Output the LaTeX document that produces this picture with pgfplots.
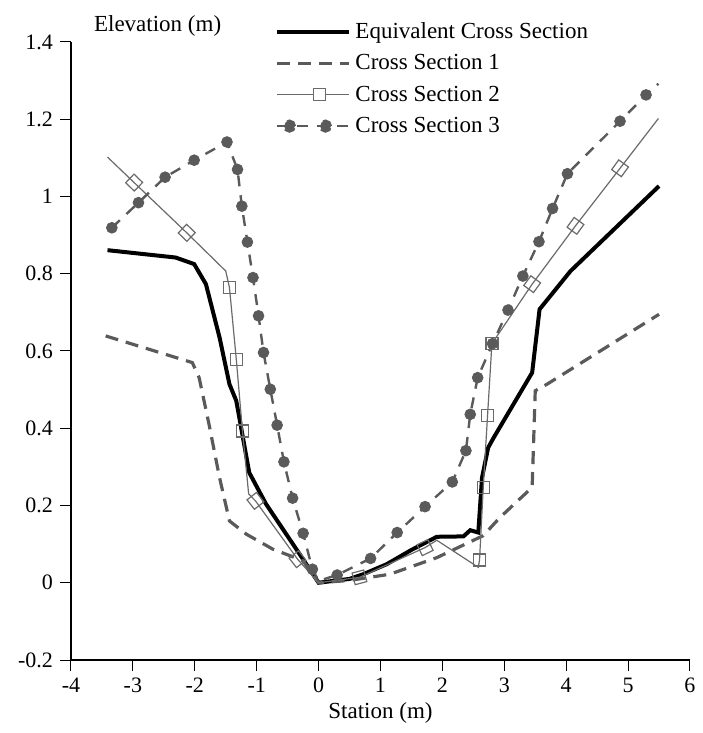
\documentclass[border=0pt]{standalone}
\usepackage{fontspec}
\setmainfont{Liberation Serif}
\usepackage{pgfplots}
\pgfplotsset{compat=1.18}
\definecolor{dg}{HTML}{5A5A5A}
\definecolor{mg}{HTML}{6A6A6A}
\begin{document}
\begin{tikzpicture}
\begin{axis}[
  scale only axis, width=309.5pt, height=309pt,
  xmin=-4, xmax=6, ymin=-0.2, ymax=1.4,
  axis x line*=bottom, axis y line*=left,
  xtick={-4,-3,-2,-1,0,1,2,3,4,5,6},
  ytick={-0.2,0,0.2,0.4,0.6,0.8,1,1.2,1.4},
  tick align=outside, major tick length=5.5pt,
  tick style={black, line width=0.5pt},
  axis line style={black, line width=0.6pt},
  /pgf/number format/assume math mode=true,
  yticklabel style={/pgf/number format/fixed},
  ticklabel style={font=\fontsize{11}{13}\selectfont},
  xlabel={Station (m)}, ylabel={Elevation (m)},
  label style={font=\fontsize{11.5}{13}\selectfont},
  ylabel style={rotate=-90, at={(axis description cs:0,1)}, anchor=base west, xshift=8pt, yshift=5pt},
  xlabel style={yshift=2pt},
  legend style={at={(axis description cs:0.32,1.045)}, anchor=north west, draw=none, fill=none,
    font=\fontsize{11.5}{13}\selectfont, row sep=2.5pt},
  legend cell align=left,
  legend image code/.code={\draw[#1] plot coordinates {(0pt,0pt) (18pt,0pt) (36pt,0pt)};},
  clip=false,
]
% Equivalent Cross Section
\addplot[black, line width=2pt, mark=none] coordinates {
(-3.41,0.861) (-2.31,0.842) (-2.01,0.825) (-1.82,0.773) (-1.60,0.635) (-1.44,0.514) (-1.33,0.471)
(-1.12,0.285) (-0.85,0.204) (-0.36,0.087) (0,0) (0.5,0.01) (0.72,0.022) (1.10,0.048) (1.5,0.085)
(1.91,0.119) (2.34,0.12) (2.45,0.136) (2.58,0.13) (2.64,0.272) (2.74,0.35) (2.83,0.376) (3.45,0.544)
(3.57,0.708) (4.07,0.807) (5.50,1.027)};
\addlegendentry{Equivalent Cross Section}
% Cross Section 1
\addplot[dg, line width=1.6pt, dash pattern=on 6.5pt off 4pt, mark=none] coordinates {
(-3.44,0.639) (-2.04,0.57) (-1.93,0.531) (-1.77,0.41) (-1.60,0.272) (-1.44,0.160) (-1.17,0.126)
(-0.74,0.087) (-0.25,0.057) (0,0) (0.5,0.006) (1.15,0.022) (1.91,0.065) (2.66,0.122) (2.93,0.169)
(3.45,0.247) (3.50,0.497) (3.69,0.514) (5.50,0.695)};
\addlegendentry{Cross Section 1}
% Cross Section 2
\addplot[mg, line width=0.6pt, mark=square, mark size=3pt, mark options={fill=white, solid, line width=0.6pt},
  mark indices={5,6,7,16,17,18,19},
  legend image code/.code={\draw[mg, line width=0.6pt] (0pt,0pt)--(36pt,0pt);
    \draw[mg, line width=0.6pt, fill=white] (21pt,0pt) ++(-3pt,-3pt) rectangle ++(6pt,6pt);}] coordinates {
(-3.41,1.102) (-2.98,1.036) (-2.13,0.906) (-1.50,0.807) (-1.44,0.764) (-1.33,0.579) (-1.23,0.393)
(-1.13,0.23) (-1.02,0.212) (-0.34,0.061) (0,0) (0.66,0.014) (1.72,0.091) (1.91,0.11) (2.58,0.04)
(2.60,0.059) (2.66,0.247) (2.73,0.434) (2.80,0.619) (3.45,0.773) (4.15,0.924) (4.87,1.073) (5.49,1.202)};
\addlegendentry{Cross Section 2}
\addplot[forget plot, only marks, mg, mark=square, mark size=3pt, mark options={fill=white, line width=0.6pt, rotate=-44}]
 coordinates {(-2.98,1.036) (-2.13,0.906)};
\addplot[forget plot, only marks, mg, mark=square, mark size=3pt, mark options={fill=white, line width=0.6pt, rotate=-52}]
 coordinates {(-1.02,0.212) (-0.34,0.061)};
\addplot[forget plot, only marks, mg, mark=square, mark size=3pt, mark options={fill=white, line width=0.6pt, rotate=15}]
 coordinates {(0.66,0.014)};
\addplot[forget plot, only marks, mg, mark=square, mark size=3pt, mark options={fill=white, line width=0.6pt, rotate=26}]
 coordinates {(1.72,0.091)};
\addplot[forget plot, only marks, mg, mark=square, mark size=3pt, mark options={fill=white, line width=0.6pt, rotate=54}]
 coordinates {(3.45,0.773) (4.15,0.924) (4.87,1.073)};
% Cross Section 3
\addplot[dg, line width=1.2pt, dash pattern=on 5.5pt off 4.5pt, mark=none,
  legend image code/.code={\draw[dg, line width=1.2pt, dash pattern=on 5.5pt off 4.5pt] (0pt,0pt)--(36pt,0pt);
    \fill[dg] (6pt,0pt) circle (2.7pt); \fill[dg] (24pt,0pt) circle (2.7pt);}] coordinates {
(-3.34,0.919) (-2.91,0.984) (-2.48,1.050) (-2.01,1.094) (-1.48,1.141) (-1.31,1.070) (-1.24,0.975)
(-1.15,0.882) (-1.06,0.790) (-0.97,0.691) (-0.89,0.596) (-0.78,0.501) (-0.67,0.408) (-0.56,0.313)
(-0.42,0.219) (-0.25,0.128) (-0.10,0.035) (0,0.005) (0.30,0.020) (0.84,0.063) (1.27,0.130) (1.72,0.197)
(2.16,0.261) (2.38,0.342) (2.45,0.436) (2.57,0.531) (2.81,0.619) (3.06,0.706) (3.30,0.794) (3.56,0.883)
(3.78,0.969) (4.02,1.059) (4.87,1.195) (5.29,1.263) (5.49,1.292)};
\addlegendentry{Cross Section 3}
\addplot[forget plot, only marks, dg, mark=*, mark size=2.7pt] coordinates {
(-3.34,0.919) (-2.91,0.984) (-2.48,1.050) (-2.01,1.094) (-1.48,1.141) (-1.31,1.070) (-1.24,0.975)
(-1.15,0.882) (-1.06,0.790) (-0.97,0.691) (-0.89,0.596) (-0.78,0.501) (-0.67,0.408) (-0.56,0.313)
(-0.42,0.219) (-0.25,0.128) (-0.10,0.035) (0.30,0.020) (0.84,0.063) (1.27,0.130) (1.72,0.197)
(2.16,0.261) (2.38,0.342) (2.45,0.436) (2.57,0.531) (2.81,0.619) (3.06,0.706) (3.30,0.794) (3.56,0.883)
(3.78,0.969) (4.02,1.059) (4.87,1.195) (5.29,1.263)};
\end{axis}
\path (current axis.south west) ++(-35.5pt,-36.5pt) coordinate (bbA);
\path (current axis.south west) ++(313.5pt,330pt) coordinate (bbB);
\path (bbA) rectangle (bbB);
\end{tikzpicture}
\end{document}
